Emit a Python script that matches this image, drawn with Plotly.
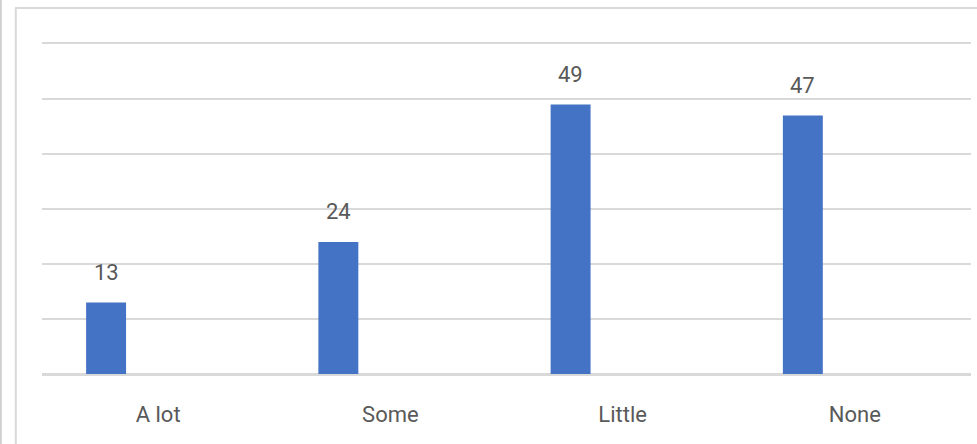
import plotly.graph_objects as go

categories = ["A lot", "Some", "Little", "None"]
values = [13, 24, 49, 47]
positions = [0, 1, 2, 3]

BAR_COLOR = "#4472C4"
TEXT_COLOR = "#595959"
GRID_COLOR = "#d9d9d9"
FONT = "Liberation Sans Narrow, Arial Narrow, Roboto, sans-serif"

W, H = 977, 444
L, R, T, B = 42, 6, 44, 70
pw, ph = W - L - R, H - T - B

def px_x(px):
    return (px - L) / pw

def px_y(py):
    return (H - B - py) / ph

fig = go.Figure()
fig.add_trace(go.Bar(
    x=positions, y=values,
    width=0.172, offset=-0.31,
    marker=dict(color=BAR_COLOR, line=dict(width=0)),
    hoverinfo="skip",
))

for p, v in zip(positions, values):
    fig.add_annotation(
        x=p - 0.31 + 0.086, y=v, xref="x", yref="y",
        text=str(v), showarrow=False, yanchor="bottom",
        yshift=16, font=dict(family=FONT, size=22, color=TEXT_COLOR),
    )

shapes = [
    dict(type="line", xref="paper", yref="paper",
         x0=px_x(15.8), x1=px_x(15.8), y0=px_y(8), y1=px_y(460),
         line=dict(color=GRID_COLOR, width=2)),
    dict(type="line", xref="paper", yref="paper",
         x0=px_x(15), x1=px_x(990), y0=px_y(8), y1=px_y(8),
         line=dict(color=GRID_COLOR, width=2)),
    dict(type="line", xref="paper", yref="paper",
         x0=px_x(0.8), x1=px_x(0.8), y0=px_y(-10), y1=px_y(460),
         line=dict(color="#d0d0d0", width=2)),
]

fig.update_layout(
    width=W, height=H,
    margin=dict(l=L, r=R, t=T, b=B),
    paper_bgcolor="white", plot_bgcolor="white",
    showlegend=False,
    shapes=shapes,
    font=dict(family=FONT, size=22, color=TEXT_COLOR),
    xaxis=dict(
        range=[-0.5, 3.5], tickmode="array", tickvals=positions, ticktext=categories,
        showgrid=False, zeroline=False,
        showline=True, mirror=True, linecolor=GRID_COLOR, linewidth=2,
        ticks="outside", ticklen=20, tickcolor="rgba(0,0,0,0)",
        tickfont=dict(family=FONT, size=22, color=TEXT_COLOR),
        fixedrange=True,
    ),
    yaxis=dict(
        range=[0, 60], dtick=10, showticklabels=False,
        showgrid=True, gridcolor=GRID_COLOR, gridwidth=2,
        zeroline=True, zerolinecolor=GRID_COLOR, zerolinewidth=2,
        showline=False, fixedrange=True,
    ),
)

fig.write_html(
    "out.html",
    config={"displayModeBar": False, "staticPlot": True},
    post_script="document.body.style.margin='0';document.body.style.overflow='hidden';",
)
